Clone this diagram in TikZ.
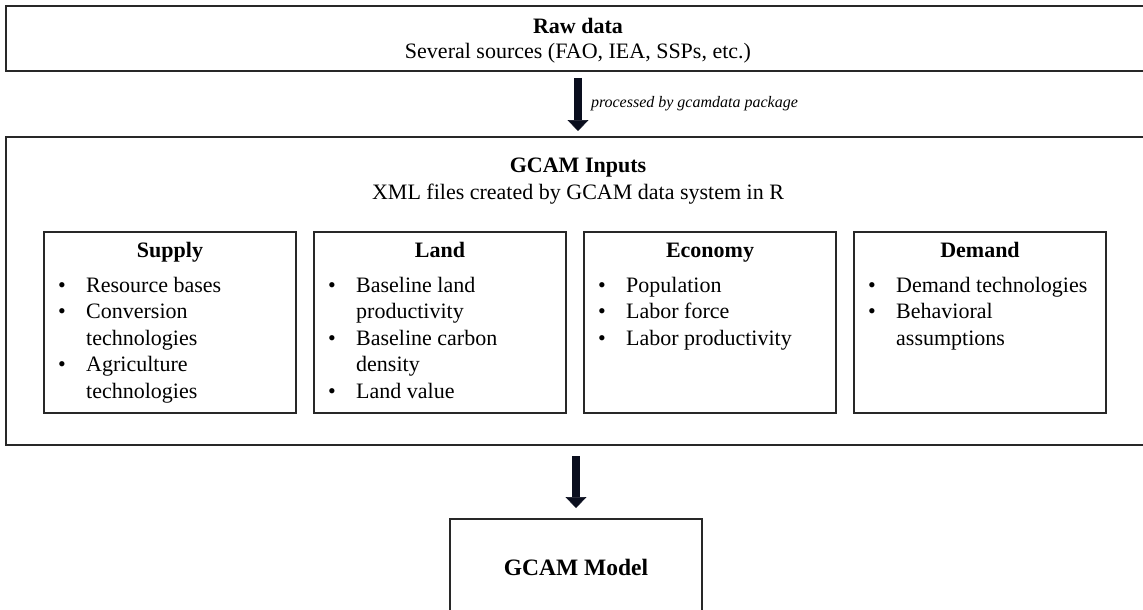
\documentclass[tikz,border=0pt]{standalone}
\usepackage{fontspec}
\setmainfont{Liberation Serif}
\usetikzlibrary{arrows.meta,calc}
\definecolor{boxline}{RGB}{40,40,40}
\definecolor{arrowc}{RGB}{10,14,30}
\begin{document}
\begin{tikzpicture}[x=1pt,y=-1pt,
  box/.style={draw=boxline, line width=2pt, inner sep=0pt},
  txt/.style={font=\fontsize{22}{26.5}\selectfont, inner sep=0pt},
  ttl/.style={font=\fontsize{22}{26.5}\selectfont\bfseries, inner sep=0pt, anchor=base},
  lbl/.style={font=\fontsize{16}{19}\selectfont\itshape, inner sep=0pt},
  inbox/.style={box, minimum width=252pt, minimum height=181pt},
  items/.style={txt, anchor=base west},
  bigarrow/.style={draw=arrowc, line width=8pt,
    -{Triangle[width=21pt 0, length=11pt 0, line width=0.5pt]}}
]
\useasboundingbox (0,0) rectangle (1143,610);
\clip (0,0) rectangle (1143,610);

% Raw data box
\node[box, minimum width=1144pt, minimum height=65pt] (raw) at (578,38.5) {};
\node[ttl] (rawtitle) at (578,34) {Raw data};
\node[txt, anchor=base] (rawsub) at (578,58.5) {Several sources (FAO, IEA, SSPs, etc.)};

% GCAM inputs box
\node[box, minimum width=1144pt, minimum height=308pt] (inputs) at (578,291) {};
\node[ttl] (inputstitle) at (578,172) {GCAM Inputs};
\node[txt, anchor=base] (inputssub) at (578,199) {XML files created by GCAM data system in R};

% inner boxes
\node[inbox] (supply) at (170,322.5) {};
\node[inbox] (land) at (440,322.5) {};
\node[inbox] (economy) at (710,322.5) {};
\node[inbox] (demand) at (980,322.5) {};

\node[ttl] (supplyt) at ($(supply.north)+(0,26)$) {Supply};
\node[ttl] (landt) at ($(land.north)+(0,26)$) {Land};
\node[ttl] (economyt) at ($(economy.north)+(0,26)$) {Economy};
\node[ttl] (demandt) at ($(demand.north)+(0,26)$) {Demand};

\node[items] (supplyl) at ($(supply.north west)+(15,61)$) {%
\begin{tabular}[t]{@{}p{28pt}@{}l@{}}
\textbullet & Resource bases\\
\textbullet & Conversion\\
 & technologies\\
\textbullet & Agriculture\\
 & technologies
\end{tabular}};
\node[items] (landl) at ($(land.north west)+(15,61)$) {%
\begin{tabular}[t]{@{}p{28pt}@{}l@{}}
\textbullet & Baseline land\\
 & productivity\\
\textbullet & Baseline carbon\\
 & density\\
\textbullet & Land value
\end{tabular}};
\node[items] (economyl) at ($(economy.north west)+(15,61)$) {%
\begin{tabular}[t]{@{}p{28pt}@{}l@{}}
\textbullet & Population\\
\textbullet & Labor force\\
\textbullet & Labor productivity
\end{tabular}};
\node[items] (demandl) at ($(demand.north west)+(15,61)$) {%
\begin{tabular}[t]{@{}p{28pt}@{}l@{}}
\textbullet & Demand technologies\\
\textbullet & Behavioral\\
 & assumptions
\end{tabular}};

% GCAM model box
\node[box, minimum width=252pt, minimum height=96pt,
  font=\fontsize{23.5}{28}\selectfont\bfseries] (model) at (576,567) {GCAM Model};

% arrows
\draw[bigarrow, shorten <=6pt, shorten >=5pt] (raw.south) -- (inputs.north)
  node[midway, right=9pt, lbl] (proc) {processed by gcamdata package};
\draw[bigarrow, shorten <=10pt, shorten >=10pt] (inputs.south -| model.north) -- (model.north);
\end{tikzpicture}
\end{document}
